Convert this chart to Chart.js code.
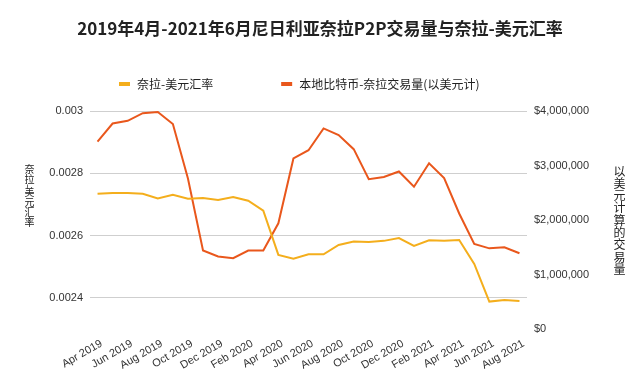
<!DOCTYPE html>
<html>
<head>
<meta charset="utf-8">
<script src="https://cdn.jsdelivr.net/npm/chart.js@4.4.1/dist/chart.umd.min.js"></script>
<style>
  html, body { margin:0; padding:0; background:#fff; }
  #wrap { position:relative; width:640px; height:385px; }
  .vtitle {
    position:absolute; writing-mode:vertical-rl; text-orientation:mixed;
    font-family:'Noto Sans CJK SC', sans-serif; color:#222; line-height:1; white-space:nowrap;
  }
  #leftTitle { left:24px; top:164px; font-size:10px; }
  #rightTitle { left:613px; top:165px; font-size:12px; letter-spacing:0.3px; }
</style>
</head>
<body>
<div id="wrap">
  <canvas id="chart" width="640" height="385"></canvas>
  <div class="vtitle" id="leftTitle"></div>
  <div class="vtitle" id="rightTitle"></div>
</div>
<script>
const title = "2019年4月-2021年6月尼日利亚奈拉P2P交易量与奈拉-美元汇率";
const leftTitle = "奈拉-美元汇率";
const rightTitle = "以美元计算的交易量";

const months = [
  "Apr 2019","May 2019","Jun 2019","Jul 2019","Aug 2019","Sep 2019","Oct 2019","Nov 2019","Dec 2019",
  "Jan 2020","Feb 2020","Mar 2020","Apr 2020","May 2020","Jun 2020","Jul 2020","Aug 2020","Sep 2020",
  "Oct 2020","Nov 2020","Dec 2020","Jan 2021","Feb 2021","Mar 2021","Apr 2021","May 2021","Jun 2021",
  "Jul 2021","Aug 2021"
];

const rateLabel = "奈拉-美元汇率";
const rate = [
  0.002734,0.002737,0.002737,0.002734,0.002719,0.002731,0.002718,0.002721,0.002714,
  0.002724,0.002712,0.002680,0.002538,0.002526,0.002540,0.002540,0.002570,0.002581,
  0.002579,0.002583,0.002592,0.002567,0.002585,0.002583,0.002586,0.002509,0.002388,
  0.002393,0.002390
];

const volumeLabel = "本地比特币-奈拉交易量(以美元计)";
const volume = [
  3440000,3770000,3820000,3960000,3980000,3760000,2760000,1440000,1330000,
  1300000,1440000,1440000,1940000,3130000,3280000,3680000,3560000,3300000,
  2750000,2790000,2890000,2610000,3040000,2770000,2120000,1560000,1480000,
  1500000,1390000
];

const rateTicks = [0.0024, 0.0026, 0.0028, 0.003];
const volumeTicks = [0, 1000000, 2000000, 3000000, 4000000];

const YELLOW = "#f4ae1c";
const ORANGE = "#e9571c";
const TXT = "#222";
const TICK_FONT = { family:"'Liberation Sans', Arial, sans-serif", size:11 };
const CJK = "'Noto Sans CJK SC', sans-serif";

document.getElementById("leftTitle").textContent = leftTitle;
document.getElementById("rightTitle").textContent = rightTitle;

// title and legend drawn by hand (legend spacing is wider than Chart.js allows)
const decor = {
  id:"decor",
  afterDraw(chart){
    const ctx = chart.ctx;
    ctx.save();
    ctx.fillStyle = TXT;
    ctx.textBaseline = "middle";

    ctx.font = `bold 17px ${CJK}`;
    ctx.textAlign = "center";
    ctx.fillText(title, chart.width/2, 29);

    ctx.font = `12px ${CJK}`;
    ctx.textAlign = "left";
    let x = 119;
    chart.data.datasets.forEach(ds => {
      ctx.fillStyle = ds.borderColor;
      ctx.fillRect(x, 82, 11, 4);
      ctx.fillStyle = TXT;
      ctx.fillText(ds.label, x + 18, 84);
      x += 18 + ctx.measureText(ds.label).width + 68;
    });
    ctx.restore();
  }
};

new Chart(document.getElementById("chart"), {
  type:"line",
  data:{
    labels: months,
    datasets:[
      { label: rateLabel, data: rate, yAxisID:"yRate", borderColor: YELLOW, backgroundColor: YELLOW,
        borderWidth:2, pointRadius:0, tension:0 },
      { label: volumeLabel, data: volume, yAxisID:"yVol", borderColor: ORANGE, backgroundColor: ORANGE,
        borderWidth:2, pointRadius:0, tension:0 }
    ]
  },
  options:{
    responsive:false,
    animation:false,
    devicePixelRatio:1,
    layout:{ padding:{ top:111, left:0, right:0, bottom:0 } },
    plugins:{ legend:{ display:false }, title:{ display:false }, tooltip:{ enabled:false } },
    scales:{
      x:{
        offset:true,
        grid:{ display:false },
        border:{ display:false },
        afterFit(s){ s.height = 56; },
        ticks:{
          autoSkip:false, minRotation:30, maxRotation:30, padding:0, labelOffset:4,
          color:"#333", font:TICK_FONT,
          callback(v, i){ return i % 2 === 0 ? this.getLabelForValue(v) : ""; }
        }
      },
      yRate:{
        position:"left",
        min:0.0023, max:0.003,
        afterBuildTicks(s){ s.ticks = rateTicks.map(v => ({ value:v })); },
        afterFit(s){ s.width = 90; },
        grid:{ color:"#cfcfcf", drawTicks:false },
        border:{ display:false },
        ticks:{ padding:7, color:"#333", font:TICK_FONT, callback:(v)=> String(+v.toFixed(4)) }
      },
      yVol:{
        position:"right",
        min:0, max:4000000,
        afterBuildTicks(s){ s.ticks = volumeTicks.map(v => ({ value:v })); },
        afterFit(s){ s.width = 113; },
        grid:{ drawOnChartArea:false, drawTicks:false },
        border:{ display:false },
        ticks:{ padding:7, color:"#333", font:TICK_FONT, callback:(v)=> "$" + Number(v).toLocaleString("en-US") }
      }
    }
  },
  plugins:[decor]
});
</script>
</body>
</html>
